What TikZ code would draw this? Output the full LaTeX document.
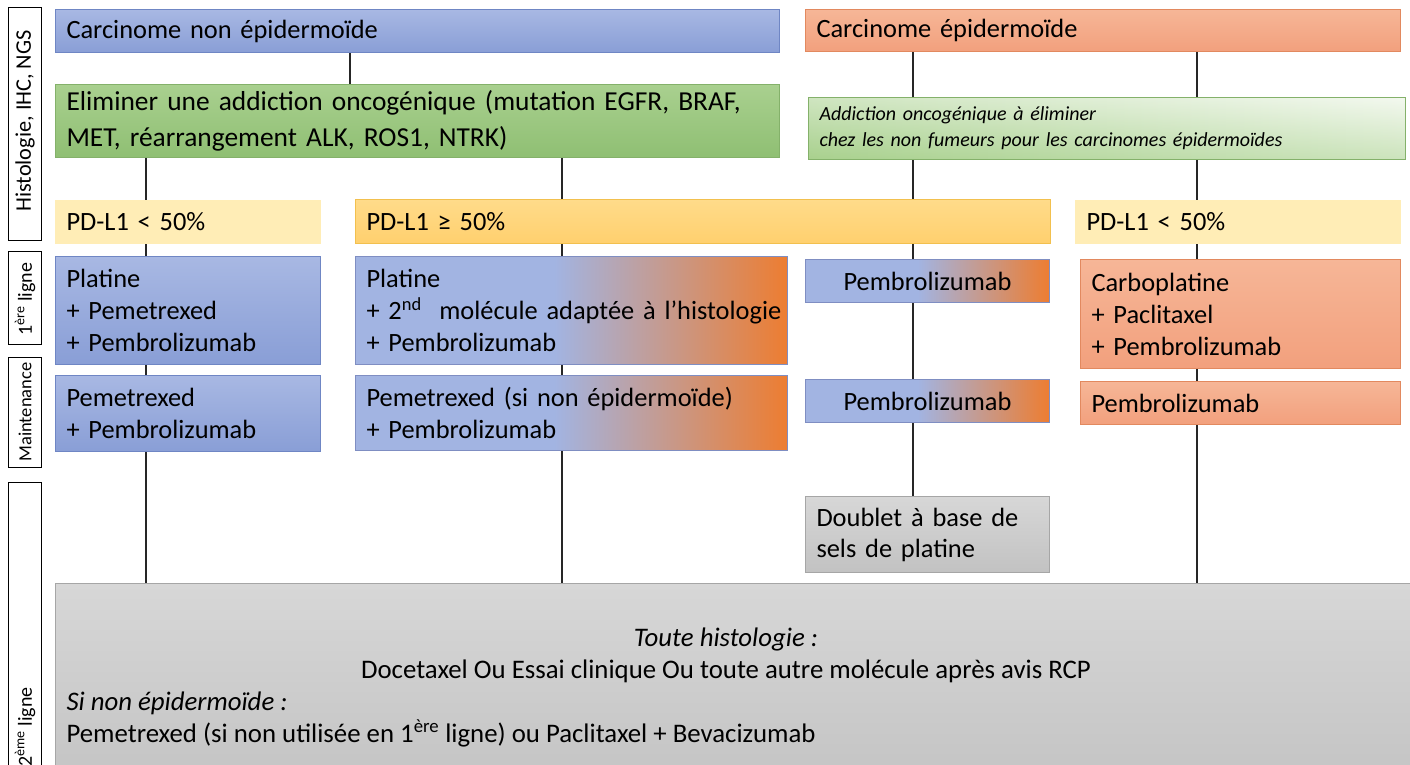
\documentclass[tikz,border=0pt]{standalone}
\usepackage{fontspec}
\setmainfont{Carlito}
\usetikzlibrary{calc}
\definecolor{blT}{HTML}{A8B8E3}
\definecolor{blB}{HTML}{899ED6}
\definecolor{blD}{HTML}{6F86C4}
\definecolor{orT}{HTML}{F6B697}
\definecolor{orB}{HTML}{F2A07D}
\definecolor{orD}{HTML}{E2895F}
\definecolor{grT}{HTML}{A9D08F}
\definecolor{grB}{HTML}{8FBF73}
\definecolor{grD}{HTML}{84B16A}
\definecolor{grL}{HTML}{A9D18E}
\definecolor{grR}{HTML}{EAF4E3}
\definecolor{ylL}{HTML}{FFEDB6}
\definecolor{ylT}{HTML}{FFDB8A}
\definecolor{ylB}{HTML}{FFD06E}
\definecolor{ylD}{HTML}{F2C04E}
\definecolor{boB}{HTML}{A2B4E2}
\definecolor{boO}{HTML}{ED7D31}
\definecolor{boD}{HTML}{7F8EC2}
\definecolor{gyT}{HTML}{D7D7D7}
\definecolor{gyB}{HTML}{C2C2C2}
\definecolor{gyD}{HTML}{A6A6A6}
\pgfdeclarehorizontalshading{bo}{100bp}{color(0bp)=(boB); color(25bp)=(boB); color(48bp)=(boB); color(75bp)=(boO); color(100bp)=(boO)}
\newcommand\bx[7]{%
  \pgfmathsetmacro\bxw{#4-#2}%
  \pgfmathsetmacro\bxh{#5-#3}%
  \pgfmathsetmacro\bxt{#4-#2-22}%
  \node[#6, anchor=north west, minimum width=\bxw pt, minimum height=\bxh pt, text width=\bxt pt, inner xsep=11pt, inner ysep=0pt] (#1) at (#2,#3) {#7};}
\begin{document}
\begin{tikzpicture}[x=1pt,y=-1pt,
  txt/.style={font=\fontsize{26.4}{32}\selectfont, align=left, line width=1pt},
  bluebox/.style={txt, draw=blD, top color=blT, bottom color=blB},
  orbox/.style={txt, draw=orD, top color=orT, bottom color=orB},
  grbox/.style={txt, draw=grD, top color=grT, bottom color=grB},
  yllight/.style={txt, draw=ylL, fill=ylL},
  yldark/.style={txt, draw=ylD, top color=ylT, bottom color=ylB},
  bobox/.style={txt, draw=boD, shade, shading=bo},
  gybox/.style={txt, draw=gyD, top color=gyT, bottom color=gyB},
  labbox/.style={draw=black, line width=1.3pt, fill=white},
  labtxt/.style={rotate=90, font=\fontsize{20}{24}\selectfont, inner sep=0pt},
  conn/.style={draw=black!85, line width=1.1pt}]
\clip (0,0) rectangle (1410,764);
\fill[white] (0,0) rectangle (1410,764);

% left side labels
\node[labbox, anchor=north west, minimum width=33pt, minimum height=233pt] (lh) at (8,7) {};
\node[labtxt, font=\fontsize{22.3}{26}\selectfont] (lht) at (25,121) {Histologie, IHC, NGS};
\node[labbox, anchor=north west, minimum width=33pt, minimum height=93pt] (l1) at (8,251) {};
\node[labtxt] (l1t) at (25,299) {1\textsuperscript{ère} ligne};
\node[labbox, anchor=north west, minimum width=33pt, minimum height=110pt] (lm) at (8,357) {};
\node[labtxt, font=\fontsize{18.5}{22}\selectfont] (lmt) at (25,412) {Maintenance};
\node[labbox, anchor=north west, minimum width=33pt, minimum height=400pt] (l2) at (8,482) {};
\node[labtxt] (l2t) at (25,727) {2\textsuperscript{ème} ligne};

% top row
\bx{nonepi}{55}{9}{779}{52}{bluebox}{Carcinome non épidermoïde}
\bx{epi}{805}{9}{1400}{51}{orbox}{Carcinome épidermoïde}
\bx{elim}{55}{84}{779}{157}{grbox, font=\fontsize{27.4}{36}\selectfont}{Eliminer une addiction oncogénique (mutation EGFR, BRAF,\\MET, réarrangement ALK, ROS1, NTRK)}
% right green box background
\shade[left color=grL, right color=grR] (808,97) rectangle (1405,159);
\shade[top color=white, bottom color=grL, opacity=0.45] (808,97) rectangle (1405,159);
\bx{addict}{808}{97}{1405}{159}{txt, draw=grD, font=\fontsize{20}{26}\selectfont\itshape}{Addiction oncogénique à éliminer\\chez les non fumeurs pour les carcinomes épidermoïdes}

% PD-L1 row
\bx{pdlow}{55}{200}{320}{243}{yllight}{PD-L1 < 50\%}
\bx{pdhigh}{355}{199}{1050}{243}{yldark}{PD-L1 ≥ 50\%}
\bx{pdlow2}{1075}{200}{1400}{243}{yllight}{PD-L1 < 50\%}

% first line
\bx{l1a}{55}{256}{320}{364}{bluebox}{Platine\\+ Pemetrexed\\+ Pembrolizumab}
\bx{l1b}{355}{256}{787}{364}{bobox}{Platine\\\mbox{+ 2\textsuperscript{nd}\ \ molécule adaptée à l’histologie}\\+ Pembrolizumab}
\bx{l1c}{805}{259}{1049}{302}{bobox, align=center}{Pembrolizumab}
\bx{l1d}{1080}{259}{1400}{368}{orbox}{Carboplatine\\+ Paclitaxel\\+ Pembrolizumab}

% maintenance
\bx{ma}{55}{375}{320}{451}{bluebox}{Pemetrexed\\+ Pembrolizumab}
\bx{mb}{355}{375}{787}{450}{bobox}{Pemetrexed (si non épidermoïde)\\+ Pembrolizumab}
\bx{mc}{805}{379}{1049}{422}{bobox, align=center}{Pembrolizumab}
\bx{md}{1080}{381}{1400}{424}{orbox}{Pembrolizumab}

% doublet
\bx{doublet}{805}{496}{1049}{572}{gybox, font=\fontsize{26.4}{31}\selectfont}{Doublet à base de\\sels de platine}

% second line box
\bx{second}{55}{583}{1440}{800}{gybox}{}
\node[txt, font=\fontsize{26.8}{32}\selectfont\itshape, anchor=base] (s1) at (726,646) {Toute histologie :};
\node[txt, font=\fontsize{26.8}{32}\selectfont, anchor=base] (s2) at (726,678) {Docetaxel Ou Essai clinique Ou toute autre molécule après avis RCP};
\node[txt, font=\fontsize{26.8}{32}\selectfont\itshape, anchor=base west, inner xsep=0pt] (s3) at (66,710) {Si non épidermoïde :};
\node[txt, font=\fontsize{26.8}{32}\selectfont, anchor=base west, inner xsep=0pt] (s4) at (66,742) {Pemetrexed (si non utilisée en 1\textsuperscript{ère} ligne) ou Paclitaxel + Bevacizumab};

% column coordinates
\coordinate (cx) at (350,0);
\coordinate (ca) at (146,0);
\coordinate (cb) at (562,0);
\coordinate (cc) at (913,0);
\coordinate (cd) at (1197,0);

% connectors
\draw[conn] (nonepi.south -| cx) -- (elim.north -| cx);
\draw[conn] (elim.south -| ca) -- (pdlow.north -| ca);
\draw[conn] (pdlow.south -| ca) -- (l1a.north -| ca);
\draw[conn] (l1a.south -| ca) -- (ma.north -| ca);
\draw[conn] (ma.south -| ca) -- (second.north -| ca);
\draw[conn] (elim.south -| cb) -- (pdhigh.north -| cb);
\draw[conn] (pdhigh.south -| cb) -- (l1b.north -| cb);
\draw[conn] (l1b.south -| cb) -- (mb.north -| cb);
\draw[conn] (mb.south -| cb) -- (second.north -| cb);
\draw[conn] (epi.south -| cc) -- (addict.north -| cc);
\draw[conn] (addict.south -| cc) -- (pdhigh.north -| cc);
\draw[conn] (pdhigh.south -| cc) -- (l1c.north -| cc);
\draw[conn] (l1c.south -| cc) -- (mc.north -| cc);
\draw[conn] (mc.south -| cc) -- (doublet.north -| cc);
\draw[conn] (epi.south -| cd) -- (addict.north -| cd);
\draw[conn] (addict.south -| cd) -- (pdlow2.north -| cd);
\draw[conn] (pdlow2.south -| cd) -- (l1d.north -| cd);
\draw[conn] (l1d.south -| cd) -- (md.north -| cd);
\draw[conn] (md.south -| cd) -- (second.north -| cd);
\end{tikzpicture}
\end{document}
